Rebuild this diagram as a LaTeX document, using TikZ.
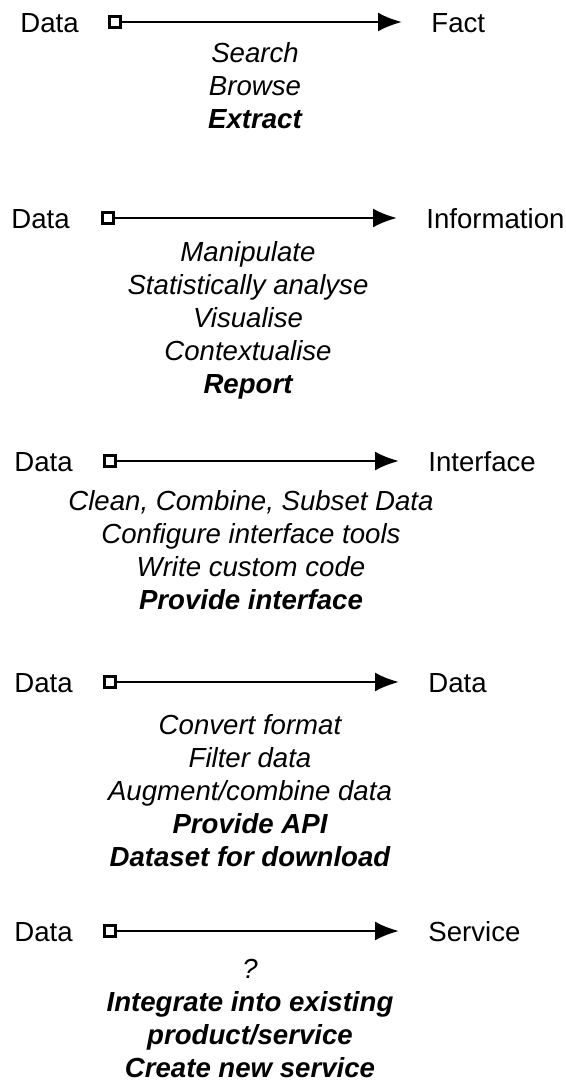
\documentclass[tikz,border=0pt]{standalone}
\usepackage{fontspec}
\setmainfont{Liberation Sans}
\usetikzlibrary{arrows.meta}

\tikzset{
    term/.style={inner sep=0pt, anchor=west, text height=10pt, text depth=0pt,
        font=\fontsize{13.8}{16.5}\selectfont},
    startbox/.style={draw, line width=1.5pt, fill=white, inner sep=0pt, minimum size=5.6pt},
    flow/.style={line width=1.3pt, -{Latex[length=12pt,width=9.5pt]}, shorten >=14.5pt},
    acts/.style={inner sep=0pt, anchor=north, align=center,
        font=\fontsize{13.8}{16.5}\selectfont\itshape}
}

\begin{document}
\begin{tikzpicture}[x=0.5pt, y=-0.5pt]
            \useasboundingbox (0,0) rectangle (566,1084);
            % one row per outcome: source, start box, arrow, result
            \foreach \i/\y/\xs/\xb/\xt/\out in {1/22/20/115/431/Fact, 2/218/11/108/426/Information,
                3/461/14/110/428/Interface, 4/682/14/110/428/Data, 5/931/14/110/428/Service}
                {
                    \node[term] (src\i) at (\xs,\y) {Data};
                    \node[startbox] (box\i) at (\xb,\y) {};
                    \node[term] (tgt\i) at (\xt,\y) {\out};
                    \draw[flow] (box\i) -- (tgt\i);
                }
            % activities under each arrow
            \node[acts] (acts1) at (255,42) {Search\\Browse\\\textbf{Extract}};
            \node[acts] (acts2) at (248,241) {Manipulate\\Statistically analyse\\Visualise\\Contextualise\\\textbf{Report}};
            \node[acts] (acts3) at (251,490) {Clean, Combine, Subset Data\\Configure interface tools\\Write custom code\\\textbf{Provide interface}};
            \node[acts] (acts4) at (250,714) {Convert format\\Filter data\\Augment/combine data\\\textbf{Provide API}\\\textbf{Dataset for download}};
            \node[acts] (acts5) at (250,959) {?\\\textbf{Integrate into existing}\\\textbf{product/service}\\\textbf{Create new service}};
        \end{tikzpicture}
\end{document}
